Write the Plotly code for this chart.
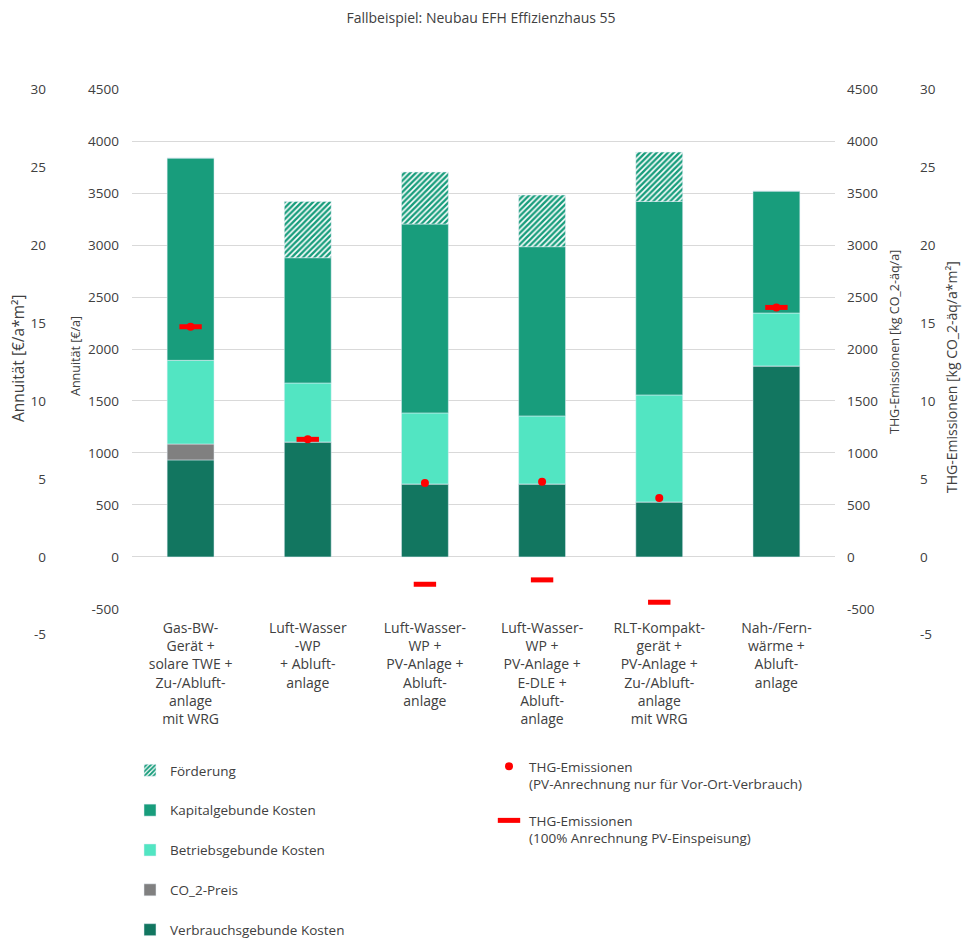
import plotly.graph_objects as go

# ---------------- data ----------------
categories = [
    "Gas-BW-<br>Gerät +<br>solare TWE +<br>Zu-/Abluft-<br>anlage<br>mit WRG",
    "Luft-Wasser<br>-WP<br>+ Abluft-<br>anlage",
    "Luft-Wasser-<br>WP +<br>PV-Anlage +<br>Abluft-<br>anlage",
    "Luft-Wasser-<br>WP +<br>PV-Anlage +<br>E-DLE +<br>Abluft-<br>anlage",
    "RLT-Kompakt-<br>gerät +<br>PV-Anlage +<br>Zu-/Abluft-<br>anlage<br>mit WRG",
    "Nah-/Fern-<br>wärme +<br>Abluft-<br>anlage",
]
verbrauch = [933, 1106, 702, 702, 529, 1837]
co2_preis = [153, 0, 0, 0, 0, 0]
betrieb = [805, 567, 683, 654, 1029, 509]
kapital = [1946, 1205, 1817, 1628, 1862, 1173]
foerderung = [0, 542, 500, 497, 474, 0]
thg_vor_ort = [2214, 1131, 711, 724, 567, 2400]
thg_100 = [2214, 1131, -263, -221, -436, 2400]

inner_ticks = [-500, 0, 500, 1000, 1500, 2000, 2500, 3000, 3500, 4000, 4500]
outer_ticks = [-5, 0, 5, 10, 15, 20, 25, 30]

# ---------------- layout helpers ----------------
W, H = 962, 940
T, B = 89, 305          # plot area top / bottom margins (outer axis spans 89..635)
PH = H - T - B


def px_x(p):
    return p / W


def px_y(p):
    return (H - B - p) / PH


FONT = "Open Sans"
TXT = "#404040"
C_KAP = "#189D7C"
C_BET = "#52E5C2"
C_VER = "#127660"
C_CO2 = "#808080"

fig = go.Figure()

bar_common = dict(x=categories, xaxis="x", yaxis="y", hoverinfo="skip")
fig.add_trace(go.Bar(y=verbrauch, name="Verbrauchsgebunde Kosten", marker=dict(color=C_VER),
                     legendgroup="g5", legendrank=5, **bar_common))
fig.add_trace(go.Bar(y=co2_preis, name="CO_2-Preis", marker=dict(color=C_CO2),
                     legendgroup="g4", legendrank=4, **bar_common))
fig.add_trace(go.Bar(y=betrieb, name="Betriebsgebunde Kosten", marker=dict(color=C_BET),
                     legendgroup="g3", legendrank=3, **bar_common))
fig.add_trace(go.Bar(y=kapital, name="Kapitalgebunde Kosten", marker=dict(color=C_KAP),
                     legendgroup="g2", legendrank=2, **bar_common))
fig.add_trace(go.Bar(y=foerderung, name="Förderung",
                     marker=dict(color="white",
                                 pattern=dict(shape="/", fgcolor=C_KAP, bgcolor="white",
                                              fgopacity=1, size=4, solidity=0.6)),
                     legendgroup="g1", legendrank=1, **bar_common))

fig.add_trace(go.Scatter(x=categories, y=thg_100, xaxis="x", yaxis="y2", mode="markers",
                         name="THG-Emissionen<br>(100% Anrechnung PV-Einspeisung)",
                         marker=dict(symbol="line-ew", size=16, color="#FF0000",
                                     line=dict(color="#FF0000", width=5)),
                         legend="legend2", legendgroup="e2", legendrank=2, hoverinfo="skip"))
fig.add_trace(go.Scatter(x=categories, y=thg_vor_ort, xaxis="x", yaxis="y2", mode="markers",
                         name="THG-Emissionen<br>(PV-Anrechnung nur für Vor-Ort-Verbrauch)",
                         marker=dict(symbol="circle", size=8, color="#FF0000"),
                         legend="legend2", legendgroup="e1", legendrank=1, hoverinfo="skip"))

# dummy traces so that the outer (per m²) axes are drawn
for ax in ("y3", "y4"):
    fig.add_trace(go.Scatter(x=[categories[0]], y=[0], xaxis="x", yaxis=ax, mode="markers",
                             marker=dict(opacity=0, size=1), showlegend=False, hoverinfo="skip"))

tickfont = dict(family=FONT, size=13.5, color=TXT)
inner_dom = [px_y(609), 1]
inner_text = [str(v) for v in inner_ticks]
outer_text = [str(v) for v in outer_ticks]

fig.update_layout(
    width=W, height=H,
    margin=dict(l=0, r=0, t=T, b=B, autoexpand=False),
    paper_bgcolor="white", plot_bgcolor="rgba(0,0,0,0)",
    barmode="relative", bargap=0.6,
    font=dict(family=FONT, color=TXT),
    title=dict(text="Fallbeispiel: Neubau EFH Effizienzhaus 55", x=0.5, xanchor="center",
               y=(H - 18) / H, yanchor="middle", yref="container",
               font=dict(family=FONT, size=14, color=TXT)),
    xaxis=dict(domain=[px_x(132), px_x(835)], anchor="y", showline=False, showgrid=False,
               ticks="", tickfont=dict(family=FONT, size=14, color=TXT), tickangle=0,
               ticklabelstandoff=9, automargin=False),
    yaxis=dict(domain=inner_dom, range=[-501, 4501], tickvals=inner_ticks, ticktext=inner_text,
               showgrid=True, gridcolor="#D9D9D9", gridwidth=1, zeroline=True,
               zerolinecolor="#D9D9D9", zerolinewidth=1, showline=False, ticks="",
               tickfont=tickfont, ticklabelstandoff=12, automargin=False),
    yaxis2=dict(domain=inner_dom, range=[-501, 4501], tickvals=inner_ticks, ticktext=inner_text,
                overlaying="y", side="right", anchor="x", showgrid=False, zeroline=False,
                showline=False, ticks="", tickfont=tickfont, ticklabelstandoff=11,
                automargin=False),
    yaxis3=dict(domain=[0, 1], range=[-5.02, 30.02], tickvals=outer_ticks, ticktext=outer_text,
                anchor="free", position=px_x(46), side="left", showgrid=False, zeroline=False,
                showline=False, ticks="", tickfont=tickfont, automargin=False),
    yaxis4=dict(domain=[0, 1], range=[-5.02, 30.02], tickvals=outer_ticks, ticktext=outer_text,
                anchor="free", position=px_x(919), side="right", showgrid=False, zeroline=False,
                showline=False, ticks="", tickfont=tickfont, automargin=False),
    legend=dict(x=px_x(130), y=px_y(755), xanchor="left", yanchor="top",
                traceorder="grouped", tracegroupgap=19.3,
                bgcolor="rgba(0,0,0,0)", font=dict(family=FONT, size=13.5, color=TXT)),
    legend2=dict(x=px_x(489), y=px_y(751), xanchor="left", yanchor="top",
                 traceorder="grouped", tracegroupgap=16, valign="top",
                 bgcolor="rgba(0,0,0,0)", font=dict(family=FONT, size=13.5, color=TXT)),
    showlegend=True,
)

axis_titles = [
    ("Annuität [€/a*m²]", 18, 358, 15.5),
    ("Annuität [€/a]", 75, 356, 12.5),
    ("THG-Emissionen [kg CO_2-äq/a]", 894, 342, 12.5),
    ("THG-Emissionen [kg CO_2-äq/a*m²]", 951, 377, 14),
]
for txt, xx, yy, fs in axis_titles:
    fig.add_annotation(text=txt, x=px_x(xx), y=px_y(yy), xref="paper", yref="paper",
                       xanchor="center", yanchor="middle", textangle=-90, showarrow=False,
                       font=dict(family=FONT, size=fs, color=TXT))

fig.write_html("out.html")
